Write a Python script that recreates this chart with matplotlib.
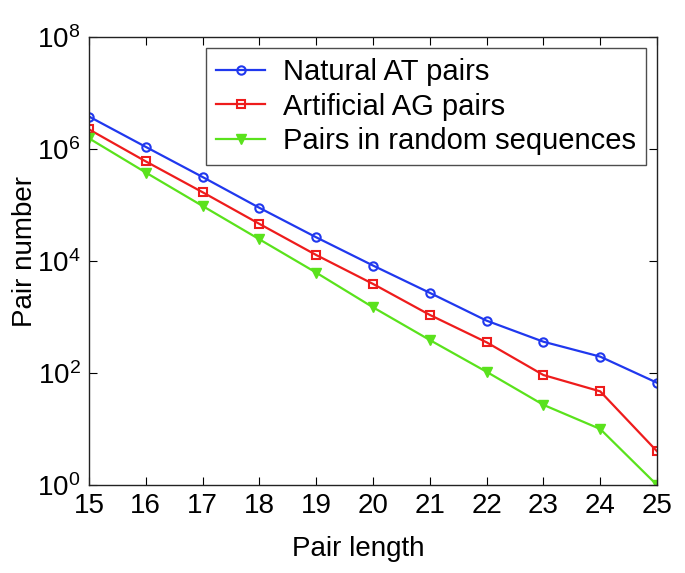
import matplotlib
matplotlib.use("Agg")
import matplotlib.pyplot as plt
import numpy as np

pair_length = [15, 16, 17, 18, 19, 20, 21, 22, 23, 24, 25]
natural_at = [3.8e6, 1.09e6, 3.16e5, 8.9e4, 2.65e4, 8.3e3, 2.7e3, 860, 362, 196, 67]
artificial_ag = [2.24e6, 6.0e5, 1.69e5, 4.6e4, 1.28e4, 3.9e3, 1.09e3, 353, 92, 47, 4.0]
random_pairs = [1.55e6, 3.8e5, 9.6e4, 2.44e4, 6.2e3, 1.49e3, 388, 105, 27, 10, 1.0]
labels = ["Natural AT pairs", "Artificial AG pairs", "Pairs in random sequences"]

plt.rcParams['font.family'] = ['Liberation Sans', 'DejaVu Sans']
plt.rcParams['mathtext.fontset'] = 'custom'
plt.rcParams['mathtext.rm'] = 'Liberation Sans'

fig = plt.figure(figsize=(6.85, 5.73), dpi=100)
ax = fig.add_axes([89/685, 1-485/573, (657-89)/685, (485-37)/573])

ax.plot(pair_length, natural_at, '-o', color='#2038ee', lw=1.6, ms=6, mfc='none', mew=1.5, label=labels[0])
ax.plot(pair_length, artificial_ag, '-s', color='#ee1c1c', lw=1.6, ms=5.5, mfc='none', mew=1.5, label=labels[1])
ax.plot(pair_length, random_pairs, '-v', color='#5ae21c', lw=1.6, ms=7, mfc='#5ae21c', mew=1.0, label=labels[2])

ax.set_yscale('log')
ax.set_xlim(15, 25)
ax.set_ylim(1, 1e8)
ax.set_xticks(pair_length)
ax.set_yticks([1, 1e2, 1e4, 1e6, 1e8])
ax.yaxis.set_minor_locator(matplotlib.ticker.NullLocator())
ax.tick_params(which='both', direction='in', top=True, right=True, length=6, width=0.8, labelsize=20, pad=6)
for s in ax.spines.values():
    s.set_linewidth(1.0)
    s.set_color('#222222')
ax.set_xlabel('Pair length', fontsize=20)
ax.set_ylabel('Pair number', fontsize=20)
ax.xaxis.set_label_coords(0.4736, -0.114)
ax.yaxis.set_label_coords(-0.09, 0.522)

leg = ax.legend(loc='upper right', bbox_to_anchor=(646/685, 1-48/573), bbox_transform=fig.transFigure,
                fontsize=21, frameon=True, fancybox=False, edgecolor='#222222', borderpad=0.35,
                handlelength=1.7, handletextpad=0.6, labelspacing=0.22, borderaxespad=0)
leg.get_frame().set_linewidth(1.0)

fig.savefig('out.png', dpi=100)
